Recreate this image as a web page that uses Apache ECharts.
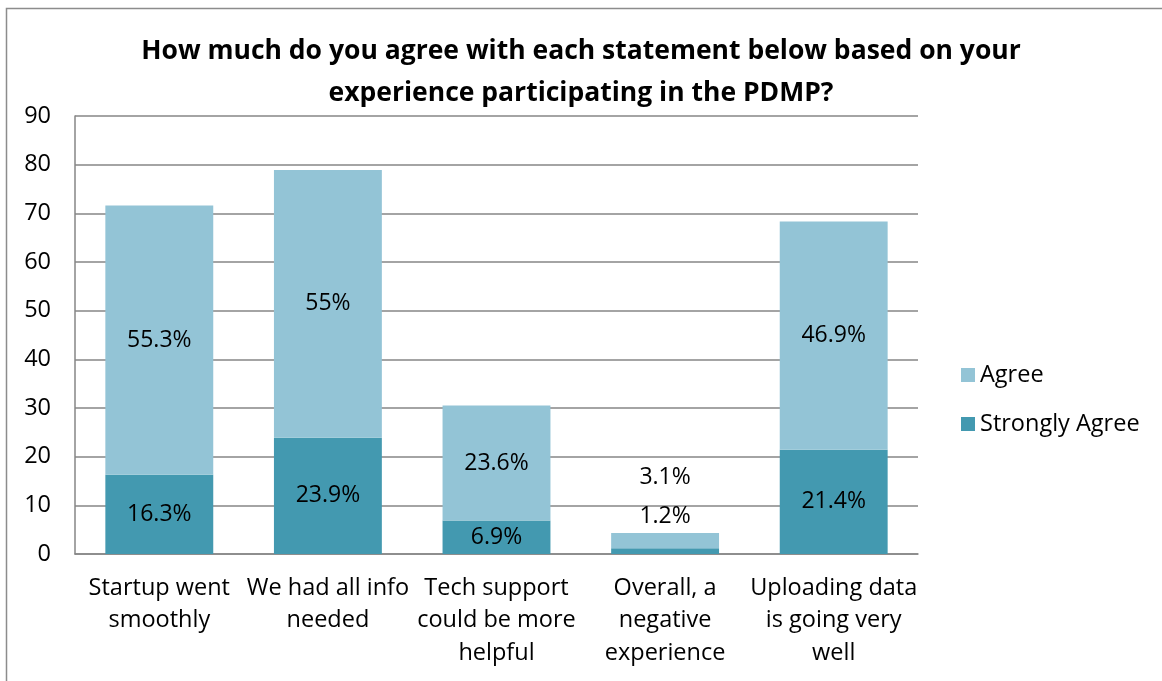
<!DOCTYPE html>
<html>
<head>
<meta charset="utf-8">
<script src="https://cdn.jsdelivr.net/npm/echarts@6/dist/echarts.min.js"></script>
<style>
  html, body { margin: 0; padding: 0; background: #ffffff; }
  #chart { width: 1162px; height: 681px; }
</style>
</head>
<body>
<div id="chart"></div>
<script>
// Survey statements (tick labels, wrapped as displayed)
const categories = [
  'Startup went\nsmoothly',
  'We had all info\nneeded',
  'Tech support\ncould be more\nhelpful',
  'Overall, a\nnegative\nexperience',
  'Uploading data\nis going very\nwell'
];

// Percent of respondents per statement
const stronglyAgree = [16.3, 23.9, 6.9, 1.2, 21.4];
const agree = [55.3, 55, 23.6, 3.1, 46.9];

const yTicks = { min: 0, max: 90, interval: 10 };

const FONT = '"Open Sans", Lato, sans-serif';
const FS = 23.5;
const COLOR_AGREE = '#93c4d6';
const COLOR_STRONG = '#4399b0';

// Segments too thin for an inside label get their label lifted above the bar
function buildData(values, liftIndex, lift) {
  return values.map((v, i) => {
    if (i === liftIndex) {
      return { value: v, label: { position: 'top', distance: lift } };
    }
    return v;
  });
}

const chart = echarts.init(document.getElementById('chart'), null, { renderer: 'canvas' });

const labelStyle = {
  show: true,
  position: 'inside',
  color: '#000000',
  fontFamily: FONT,
  fontSize: 23,
  formatter: p => p.value + '%'
};

chart.setOption({
  animation: false,
  backgroundColor: '#ffffff',
  title: {
    text: 'How much do you agree with each statement below based on your\nexperience participating in the PDMP?',
    left: 'center',
    top: 25,
    textStyle: {
      fontFamily: FONT,
      fontSize: 26.5,
      fontWeight: 'bold',
      color: '#000000',
      lineHeight: 42
    }
  },
  legend: {
    orient: 'vertical',
    left: 956,
    top: 358,
    itemWidth: 14,
    itemHeight: 14,
    itemGap: 25,
    icon: 'rect',
    data: ['Agree', 'Strongly Agree'],
    textStyle: { fontFamily: FONT, fontSize: FS, color: '#000000' }
  },
  grid: { left: 75, right: 244, top: 116, bottom: 127, containLabel: false },
  xAxis: {
    type: 'category',
    data: categories,
    axisLine: { show: true, lineStyle: { color: '#868686', width: 1.5 } },
    axisTick: { show: false },
    axisLabel: {
      color: '#000000',
      fontFamily: FONT,
      fontSize: FS,
      lineHeight: 32.5,
      margin: 18,
      interval: 0
    }
  },
  yAxis: {
    type: 'value',
    min: yTicks.min,
    max: yTicks.max,
    interval: yTicks.interval,
    axisLine: { show: true, lineStyle: { color: '#868686', width: 1.5 } },
    axisTick: { show: false },
    axisLabel: { color: '#000000', fontFamily: FONT, fontSize: FS, margin: 24 },
    splitLine: { lineStyle: { color: '#868686', width: 1.5 } }
  },
  series: [
    {
      name: 'Strongly Agree',
      type: 'bar',
      stack: 'total',
      barWidth: '64%',
      itemStyle: { color: COLOR_STRONG },
      label: labelStyle,
      data: buildData(stronglyAgree, 3, 20)
    },
    {
      name: 'Agree',
      type: 'bar',
      stack: 'total',
      barWidth: '64%',
      itemStyle: { color: COLOR_AGREE },
      label: labelStyle,
      data: buildData(agree, 3, 44)
    }
  ],
  graphic: [
    {
      type: 'rect',
      silent: true,
      shape: { x: 6.5, y: 8.5, width: 1300, height: 800 },
      style: { fill: null, stroke: '#8c8c8c', lineWidth: 1.5 }
    }
  ]
});
</script>
</body>
</html>
